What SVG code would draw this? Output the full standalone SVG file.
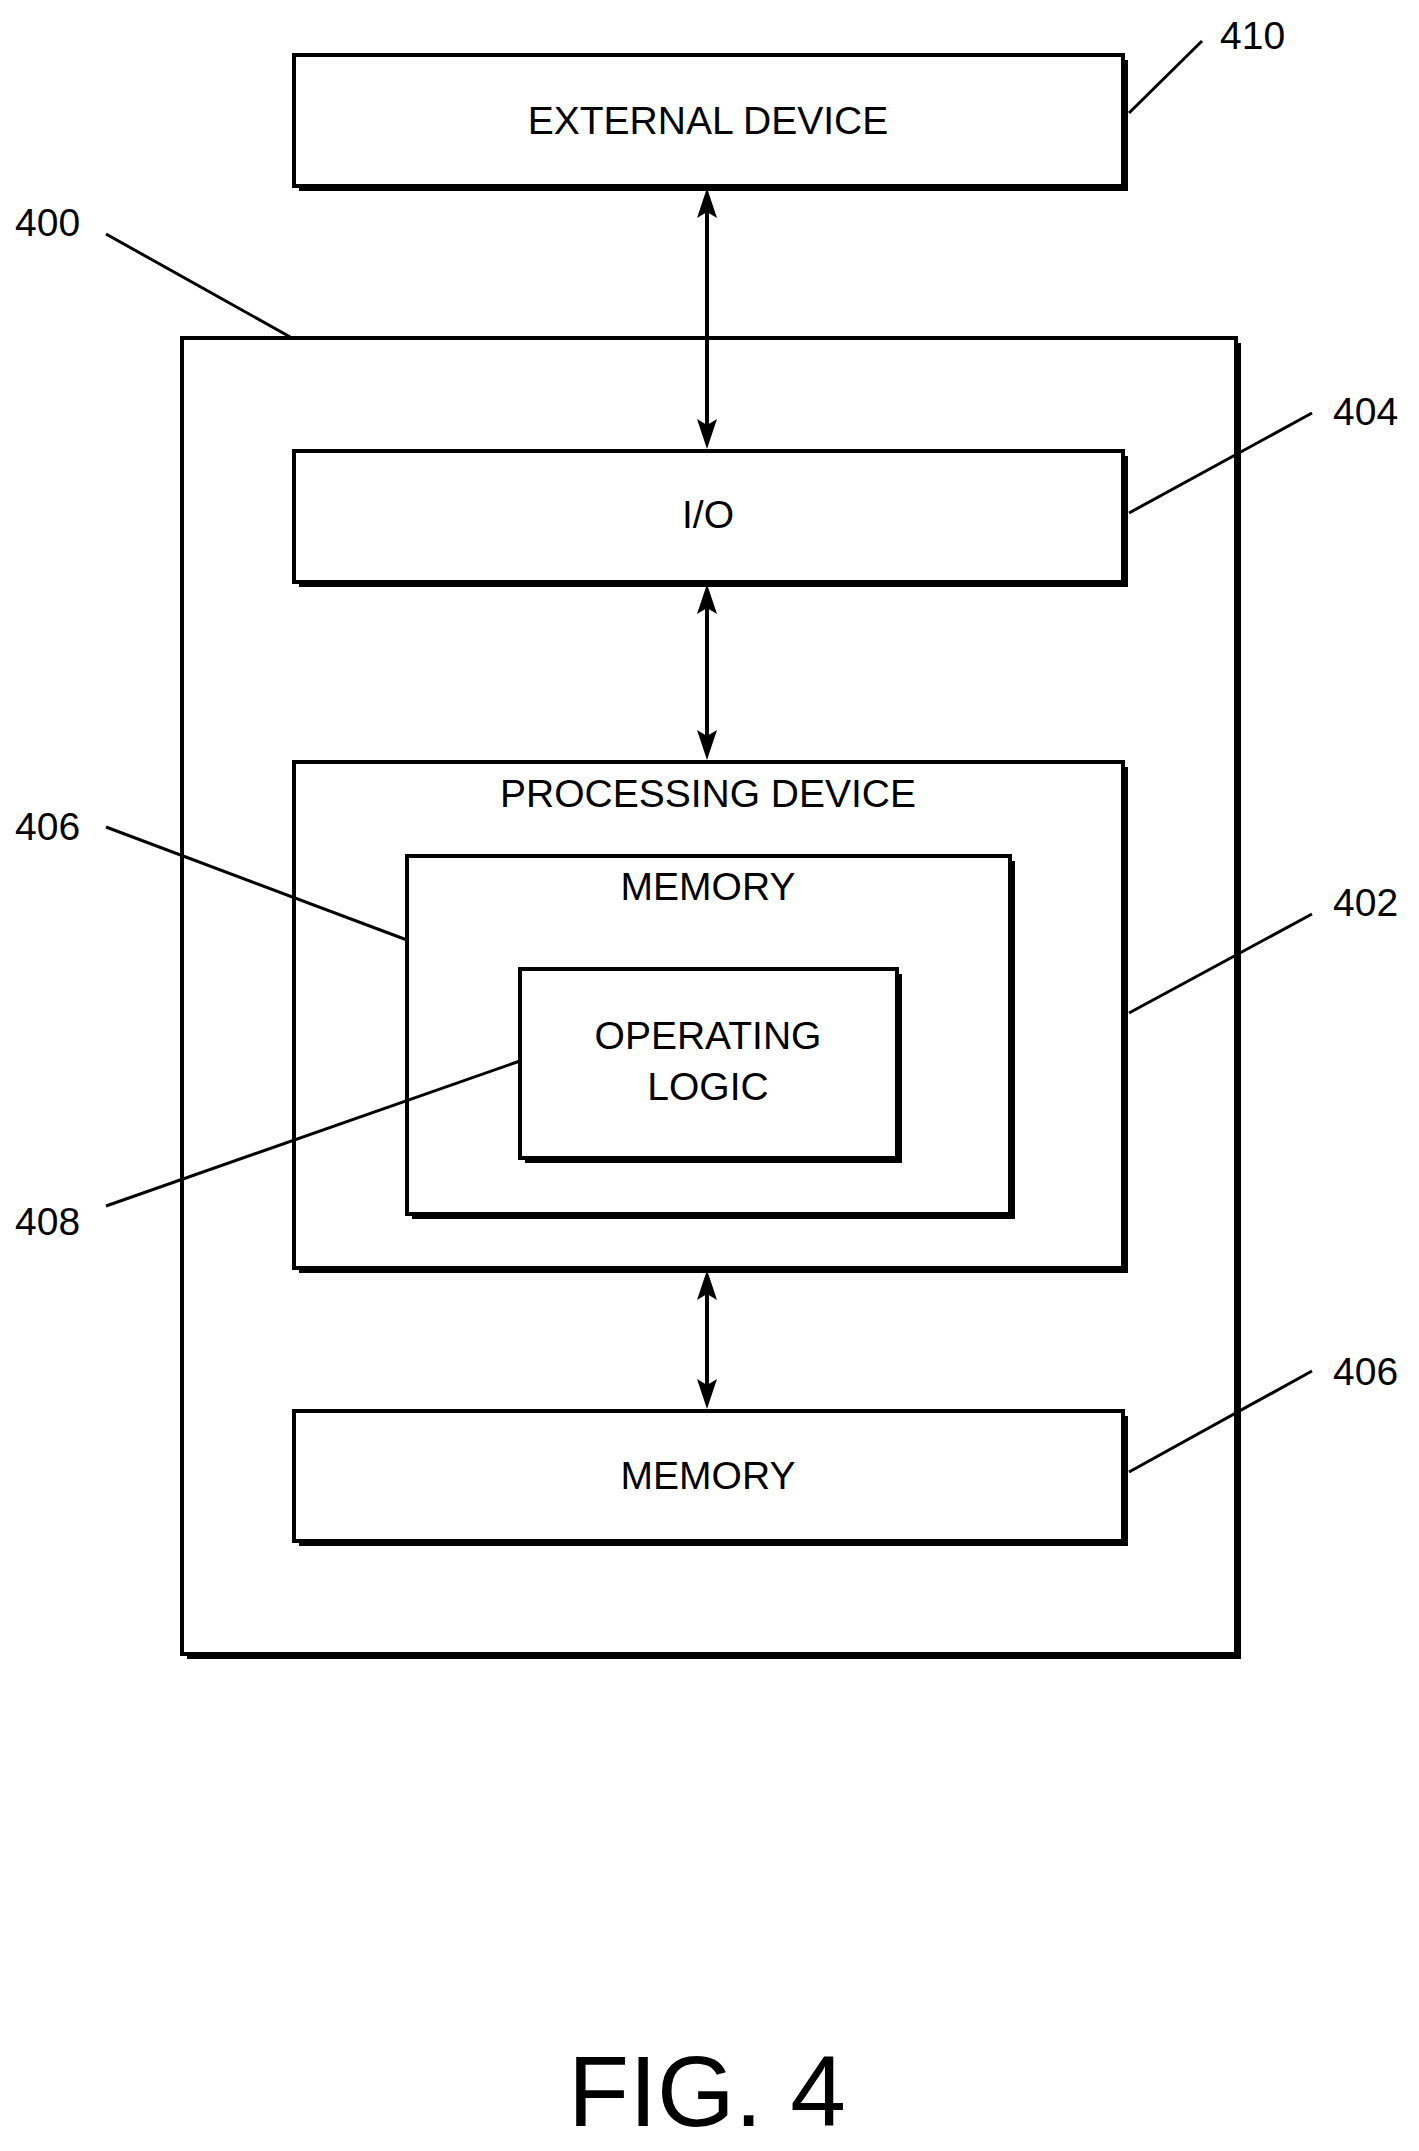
<svg xmlns="http://www.w3.org/2000/svg" width="1419" height="2151" viewBox="0 0 1419 2151">
<style>
.b{fill:#fff;stroke:#000;stroke-width:4}
.s{fill:#000}
.t{font-family:"Liberation Sans",Arial,sans-serif;font-size:39px;text-anchor:middle;fill:#000}
.n{font-family:"Liberation Sans",Arial,sans-serif;font-size:39px;fill:#000}
.l{stroke:#000;stroke-width:3;fill:none}
.c{stroke:#000;stroke-width:4;fill:none}
.h{fill:#000}
</style>
<g transform="translate(-4,0)">
<g id="n400"><rect class="s" x="191" y="343" width="1054" height="1316"/><rect class="b" x="186" y="338" width="1054" height="1316"/></g>
<g id="n410"><rect class="s" x="303" y="60" width="829" height="131"/><rect class="b" x="298" y="55" width="829" height="131"/><text class="t" x="712" y="134">EXTERNAL DEVICE</text></g>
<g id="n404"><rect class="s" x="303" y="456" width="829" height="131"/><rect class="b" x="298" y="451" width="829" height="131"/><text class="t" x="712" y="528">I/O</text></g>
<g id="n402"><rect class="s" x="303" y="767" width="829" height="506"/><rect class="b" x="298" y="762" width="829" height="506"/><text class="t" x="712" y="807">PROCESSING DEVICE</text></g>
<g id="n406a"><rect class="s" x="416" y="861" width="603" height="358"/><rect class="b" x="411" y="856" width="603" height="358"/><text class="t" x="712" y="900">MEMORY</text></g>
<g id="n408"><rect class="s" x="529" y="974" width="377" height="189"/><rect class="b" x="524" y="969" width="377" height="189"/><text class="t" x="712" y="1049">OPERATING</text><text class="t" x="712" y="1100">LOGIC</text></g>
<g id="n406b"><rect class="s" x="303" y="1416" width="829" height="130"/><rect class="b" x="298" y="1411" width="829" height="130"/><text class="t" x="712" y="1489">MEMORY</text></g>
<g id="connectors">
<line class="c" x1="711" y1="200" x2="711" y2="440"/>
<polygon class="h" points="711,188 701,218 711,212 721,218"/>
<polygon class="h" points="711,449 701,419 711,425 721,419"/>
<line class="c" x1="711" y1="595" x2="711" y2="750"/>
<polygon class="h" points="711,584 701,614 711,608 721,614"/>
<polygon class="h" points="711,760 701,730 711,736 721,730"/>
<line class="c" x1="711" y1="1280" x2="711" y2="1400"/>
<polygon class="h" points="711,1270 701,1300 711,1294 721,1300"/>
<polygon class="h" points="711,1409 701,1379 711,1385 721,1379"/>
<line class="l" x1="1133" y1="113" x2="1206" y2="41"/>
<line class="l" x1="110" y1="234" x2="296" y2="338"/>
<line class="l" x1="1133" y1="513" x2="1316" y2="413"/>
<line class="l" x1="110" y1="827" x2="411" y2="940"/>
<line class="l" x1="1133" y1="1013" x2="1316" y2="914"/>
<line class="l" x1="110" y1="1206" x2="524" y2="1061"/>
<line class="l" x1="1133" y1="1472" x2="1316" y2="1371"/>
</g>
<g id="labels">
<text class="n" x="1224" y="49">410</text>
<text class="n" x="19" y="236">400</text>
<text class="n" x="1337" y="425">404</text>
<text class="n" x="19" y="840">406</text>
<text class="n" x="1337" y="916">402</text>
<text class="n" x="19" y="1235">408</text>
<text class="n" x="1337" y="1385">406</text>
<text class="t" x="711" y="2126" style="font-size:100px">FIG. 4</text>
</g>
</g>
</svg>
